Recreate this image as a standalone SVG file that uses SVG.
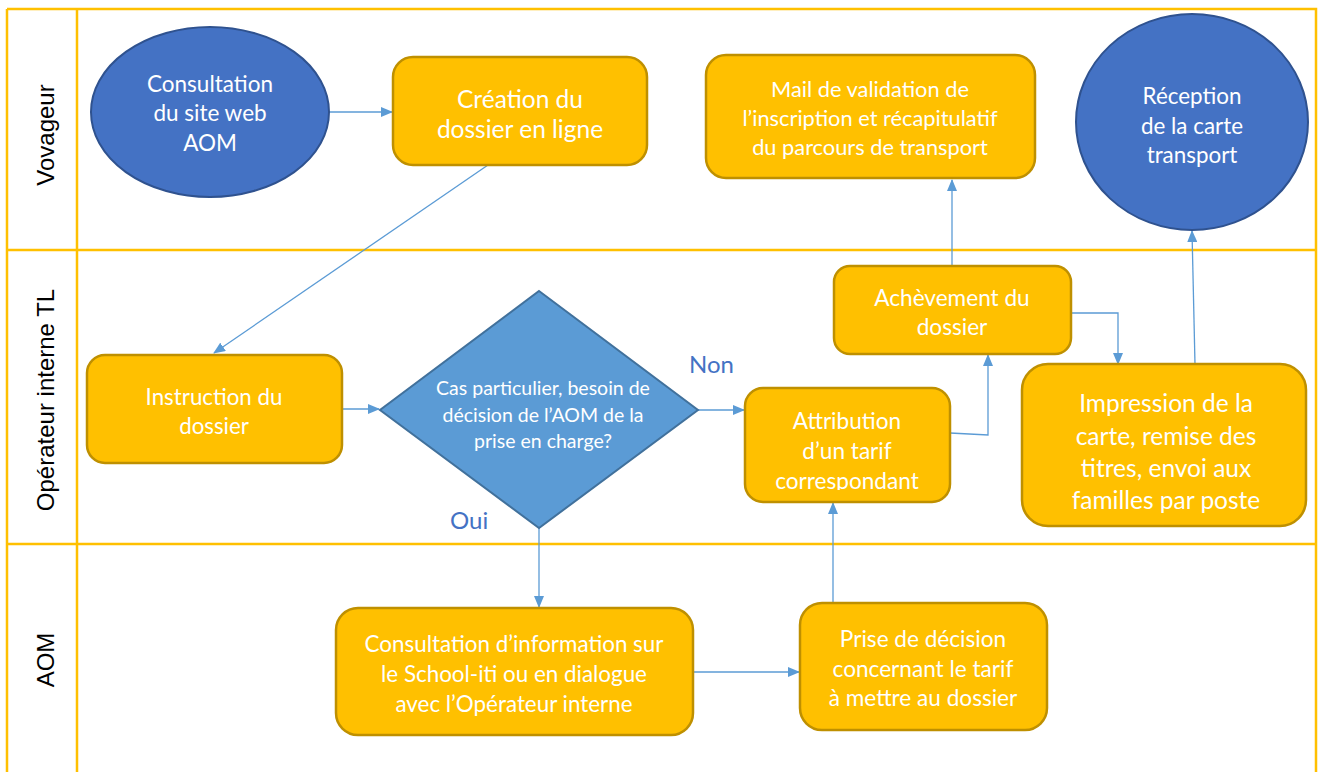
<svg xmlns="http://www.w3.org/2000/svg" width="1320" height="772" viewBox="0 0 1320 772">
<defs>
<style>
.lane{fill:none;stroke:#FFC000;stroke-width:2.5}
.lbl{font-family:"Liberation Sans",Arial,sans-serif;font-size:24px;fill:#000}
.box{fill:#FFC000;stroke:#BF9000;stroke-width:2.5}
.ell{fill:#4472C4;stroke:#2F528F;stroke-width:2}
.dia{fill:#5B9BD5;stroke:#41719C;stroke-width:2}
.t{font-family:Lato,"Open Sans",sans-serif;fill:#fff;text-anchor:middle;dominant-baseline:central}
.c{fill:none;stroke:#5B9BD5;stroke-width:1.3}
.yn{font-family:Lato,"Open Sans",sans-serif;font-size:24px;fill:#4472C4}
</style>
<marker id="ah" viewBox="0 0 12 10" refX="11" refY="5" markerWidth="12" markerHeight="10" markerUnits="userSpaceOnUse" orient="auto">
<path d="M0,0 L12,5 L0,10 z" fill="#5B9BD5"/>
</marker>
<clipPath id="clipAttr"><rect x="745" y="388" width="205" height="102"/></clipPath>
</defs>
<rect width="1320" height="772" fill="#fff"/>
<g id="lanes">
<path class="lane" d="M7,9 H1316 V772 M7,9 V772 M77,9 V772 M7,250 H1316 M7,544 H1316"/>
<text class="lbl" transform="translate(54,135) rotate(-90)" text-anchor="middle">Vovageur</text>
<text class="lbl" transform="translate(54,400) rotate(-90)" text-anchor="middle">Opérateur interne TL</text>
<text class="lbl" transform="translate(54,660) rotate(-90)" text-anchor="middle">AOM</text>
</g>
<g id="connectors">
<path class="c" d="M329,112 H392" marker-end="url(#ah)"/>
<path class="c" d="M488,165 L214,353" marker-end="url(#ah)"/>
<path class="c" d="M342,409 H379" marker-end="url(#ah)"/>
<path class="c" d="M698,410 H744" marker-end="url(#ah)"/>
<path class="c" d="M950,433 L988,435 V355" marker-end="url(#ah)"/>
<path class="c" d="M952,266 V180" marker-end="url(#ah)"/>
<path class="c" d="M1071,313 H1118 V364" marker-end="url(#ah)"/>
<path class="c" d="M1195,364 L1192,231" marker-end="url(#ah)"/>
<path class="c" d="M539,528 V607" marker-end="url(#ah)"/>
<path class="c" d="M693,672 H799" marker-end="url(#ah)"/>
<path class="c" d="M833,603 V503" marker-end="url(#ah)"/>
<text class="yn" x="689" y="373">Non</text>
<text class="yn" x="450" y="529">Oui</text>
</g>
<g id="n-consultation-web">
<ellipse class="ell" cx="210" cy="112" rx="119" ry="85"/>
<text class="t" font-size="22.5" x="210" y="83">Consultation</text>
<text class="t" font-size="22.5" x="210" y="112">du site web</text>
<text class="t" font-size="22.5" x="210" y="142">AOM</text>
</g>
<g id="n-creation">
<rect class="box" x="393" y="57" width="254" height="108" rx="20"/>
<text class="t" font-size="24.5" x="520" y="98">Création du</text>
<text class="t" font-size="24.5" x="520" y="128">dossier en ligne</text>
</g>
<g id="n-mail">
<rect class="box" x="706" y="55" width="329" height="123" rx="20"/>
<text class="t" font-size="21.8" x="870" y="88">Mail de validation de</text>
<text class="t" font-size="21.8" x="870" y="117">l’inscription et récapitulatif</text>
<text class="t" font-size="21.8" x="870" y="146">du parcours de transport</text>
</g>
<g id="n-reception">
<ellipse class="ell" cx="1192" cy="122" rx="116" ry="108"/>
<text class="t" font-size="22.4" x="1192" y="95">Réception</text>
<text class="t" font-size="22.4" x="1192" y="125">de la carte</text>
<text class="t" font-size="22.4" x="1192" y="154">transport</text>
</g>
<g id="n-instruction">
<rect class="box" x="87" y="355" width="255" height="108" rx="18"/>
<text class="t" font-size="22.3" x="214" y="396">Instruction du</text>
<text class="t" font-size="22.3" x="214" y="425">dossier</text>
</g>
<g id="n-decision">
<polygon class="dia" points="539,291 698,410 539,528 380,410"/>
<text class="t" font-size="19.5" x="543" y="387">Cas particulier, besoin de</text>
<text class="t" font-size="19.5" x="543" y="414">décision de l’AOM de la</text>
<text class="t" font-size="19.5" x="543" y="440">prise en charge?</text>
</g>
<g id="n-attribution">
<rect class="box" x="745" y="388" width="205" height="114" rx="18"/>
<g clip-path="url(#clipAttr)">
<text class="t" font-size="22.6" x="847" y="420">Attribution</text>
<text class="t" font-size="22.6" x="847" y="450">d’un tarif</text>
<text class="t" font-size="22.6" x="847" y="480">correspondant</text>
</g>
</g>
<g id="n-achevement">
<rect class="box" x="834" y="266" width="237" height="88" rx="16"/>
<text class="t" font-size="22.6" x="952" y="297">Achèvement du</text>
<text class="t" font-size="22.6" x="952" y="326">dossier</text>
</g>
<g id="n-impression">
<rect class="box" x="1022" y="364" width="284" height="162" rx="26"/>
<text class="t" font-size="24.5" x="1166" y="402">Impression de la</text>
<text class="t" font-size="24.5" x="1166" y="435">carte, remise des</text>
<text class="t" font-size="24.5" x="1166" y="467">titres, envoi aux</text>
<text class="t" font-size="24.5" x="1166" y="499">familles par poste</text>
</g>
<g id="n-consultation-info">
<rect class="box" x="336" y="608" width="357" height="127" rx="22"/>
<text class="t" font-size="22.4" x="514" y="643">Consultation d’information sur</text>
<text class="t" font-size="22.4" x="514" y="673">le School-iti ou en dialogue</text>
<text class="t" font-size="22.4" x="514" y="703">avec l’Opérateur interne</text>
</g>
<g id="n-prise">
<rect class="box" x="800" y="603" width="247" height="127" rx="22"/>
<text class="t" font-size="22.6" x="923" y="638">Prise de décision</text>
<text class="t" font-size="22.6" x="923" y="668">concernant le tarif</text>
<text class="t" font-size="22.6" x="923" y="697">à mettre au dossier</text>
</g>
</svg>
